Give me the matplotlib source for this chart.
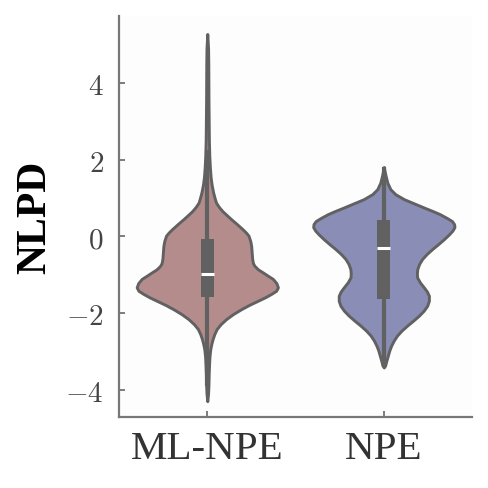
import matplotlib
matplotlib.use("Agg")
import matplotlib.pyplot as plt
import numpy as np

# ---------------- data ----------------
categories = ["ML-NPE", "NPE"]

# density profile (relative half-width) at NLPD values
ml_coords = [5.28, 4.9, 4.5, 4.0, 3.5, 3.0, 2.5, 2.1, 1.8, 1.55, 1.35, 1.15,
             1.0, 0.88, 0.77, 0.66, 0.55, 0.45, 0.32, 0.19, 0.10, 0.02,
             -0.12, -0.25, -0.42, -0.59, -0.70, -0.77, -0.86, -0.94, -1.03,
             -1.11, -1.22, -1.33, -1.42, -1.50, -1.59, -1.68, -1.79, -1.90,
             -2.03, -2.16, -2.29, -2.42, -2.55, -2.68, -2.81, -2.94, -3.13,
             -3.33, -3.6, -3.85, -4.1, -4.30]
ml_dens = [0.0, 0.8, 1.0, 1.1, 1.2, 1.4, 1.6, 2.0, 2.6, 3.3, 4.3, 5.8,
           7.3, 8.7, 11.5, 15.0, 19.5, 23.7, 29.5, 35.0, 38.5, 41.0,
           42.8, 43.7, 44.2, 44.7, 45.5, 47.0, 50.5, 55.3, 60.5,
           65.3, 68.8, 70.3, 68.5, 63.7, 57.5, 50.3, 41.5, 33.7,
           25.5, 18.7, 13.3, 9.3, 7.0, 5.3, 4.0, 3.0, 2.2,
           1.8, 1.4, 1.2, 0.8, 0.0]

npe_coords = [1.81, 1.70, 1.58, 1.40, 1.23, 1.10, 0.97, 0.86, 0.75, 0.66,
              0.58, 0.48, 0.40, 0.32, 0.24, 0.15, 0.05, -0.07, -0.20, -0.33,
              -0.46, -0.59, -0.72, -0.85, -0.96, -1.07, -1.20, -1.33, -1.44,
              -1.55, -1.68, -1.81, -1.94, -2.07, -2.20, -2.33, -2.46, -2.59,
              -2.72, -2.85, -2.98, -3.11, -3.24, -3.37, -3.42]
npe_dens = [0.0, 0.8, 1.8, 3.5, 6.5, 11.5, 20.0, 30.0, 40.0, 48.5,
            55.5, 62.5, 67.5, 69.7, 70.0, 68.0, 64.5, 59.7, 54.0, 48.0,
            42.5, 38.0, 35.0, 33.2, 32.8, 33.0, 35.8, 39.7, 42.8,
            44.7, 44.7, 43.0, 39.5, 34.7, 29.0, 23.0, 17.5, 13.0,
            9.8, 7.3, 5.4, 4.0, 2.6, 1.3, 0.0]

# box summaries: q1, median, q3, whisker low, whisker high
ml_box = dict(q1=-1.58, med=-0.98, q3=-0.07, whislo=-3.85, whishi=2.2)
npe_box = dict(q1=-1.64, med=-0.31, q3=0.42, whislo=-3.35, whishi=1.75)

yticks = [-4, -2, 0, 2, 4]
fill_colors = ["#b48c8c", "#8a8db5"]
edge_color = "#616161"

# ---------------- figure ----------------
plt.rcParams["mathtext.fontset"] = "cm"

fig = plt.figure(figsize=(4.89, 4.89), dpi=100)
fig.patch.set_facecolor("white")
ax = fig.add_axes([0.2434, 0.1446, 0.722, 0.8207])
ax.set_facecolor("#fdfdfd")

positions = [0, 1]
vpstats = []
for c, d in [(ml_coords, ml_dens), (npe_coords, npe_dens)]:
    c = np.array(c)
    d = np.array(d)
    vpstats.append(dict(coords=c, vals=d, mean=0.0, median=0.0,
                        min=c.min(), max=c.max()))

parts = ax.violin(vpstats, positions=positions, widths=0.8,
                  showmeans=False, showextrema=False, showmedians=False)
for body, col in zip(parts["bodies"], fill_colors):
    body.set_facecolor(col)
    body.set_edgecolor(edge_color)
    body.set_linewidth(2.1)
    body.set_joinstyle("round")
    body.set_alpha(1)
    body.set_zorder(2)

bstats = []
for b, lab in zip([ml_box, npe_box], categories):
    s = dict(b)
    s["label"] = lab
    s["fliers"] = []
    bstats.append(s)

ax.bxp(bstats, positions=positions, widths=0.074, patch_artist=True,
       showcaps=False, showfliers=False,
       boxprops=dict(facecolor=edge_color, edgecolor=edge_color, linewidth=0),
       whiskerprops=dict(color=edge_color, linewidth=3.0),
       medianprops=dict(color="white", linewidth=2.2, solid_capstyle="butt"),
       zorder=3)

ax.set_xlim(-0.5, 1.5)
ax.set_ylim(-4.72, 5.75)
ax.set_xticks(positions)
ax.set_xticklabels(categories, fontfamily="Liberation Serif", fontsize=29.5,
                   color="#333333")
ax.set_yticks(yticks)
ax.set_yticklabels([r"$%d$" % v for v in yticks], fontsize=21,
                   color="#444444")
ax.tick_params(direction="in", length=4, width=1.2, color="#666666")
ax.tick_params(axis="y", pad=11)
ax.tick_params(axis="x", pad=9)

ax.set_ylabel("NLPD", fontfamily="Liberation Serif", fontweight="bold",
              fontsize=30, color="black", labelpad=8)

for side in ["top", "right"]:
    ax.spines[side].set_visible(False)
for side in ["left", "bottom"]:
    ax.spines[side].set_color("#777777")
    ax.spines[side].set_linewidth(1.6)

fig.savefig("out.png", dpi=100, facecolor="white")
